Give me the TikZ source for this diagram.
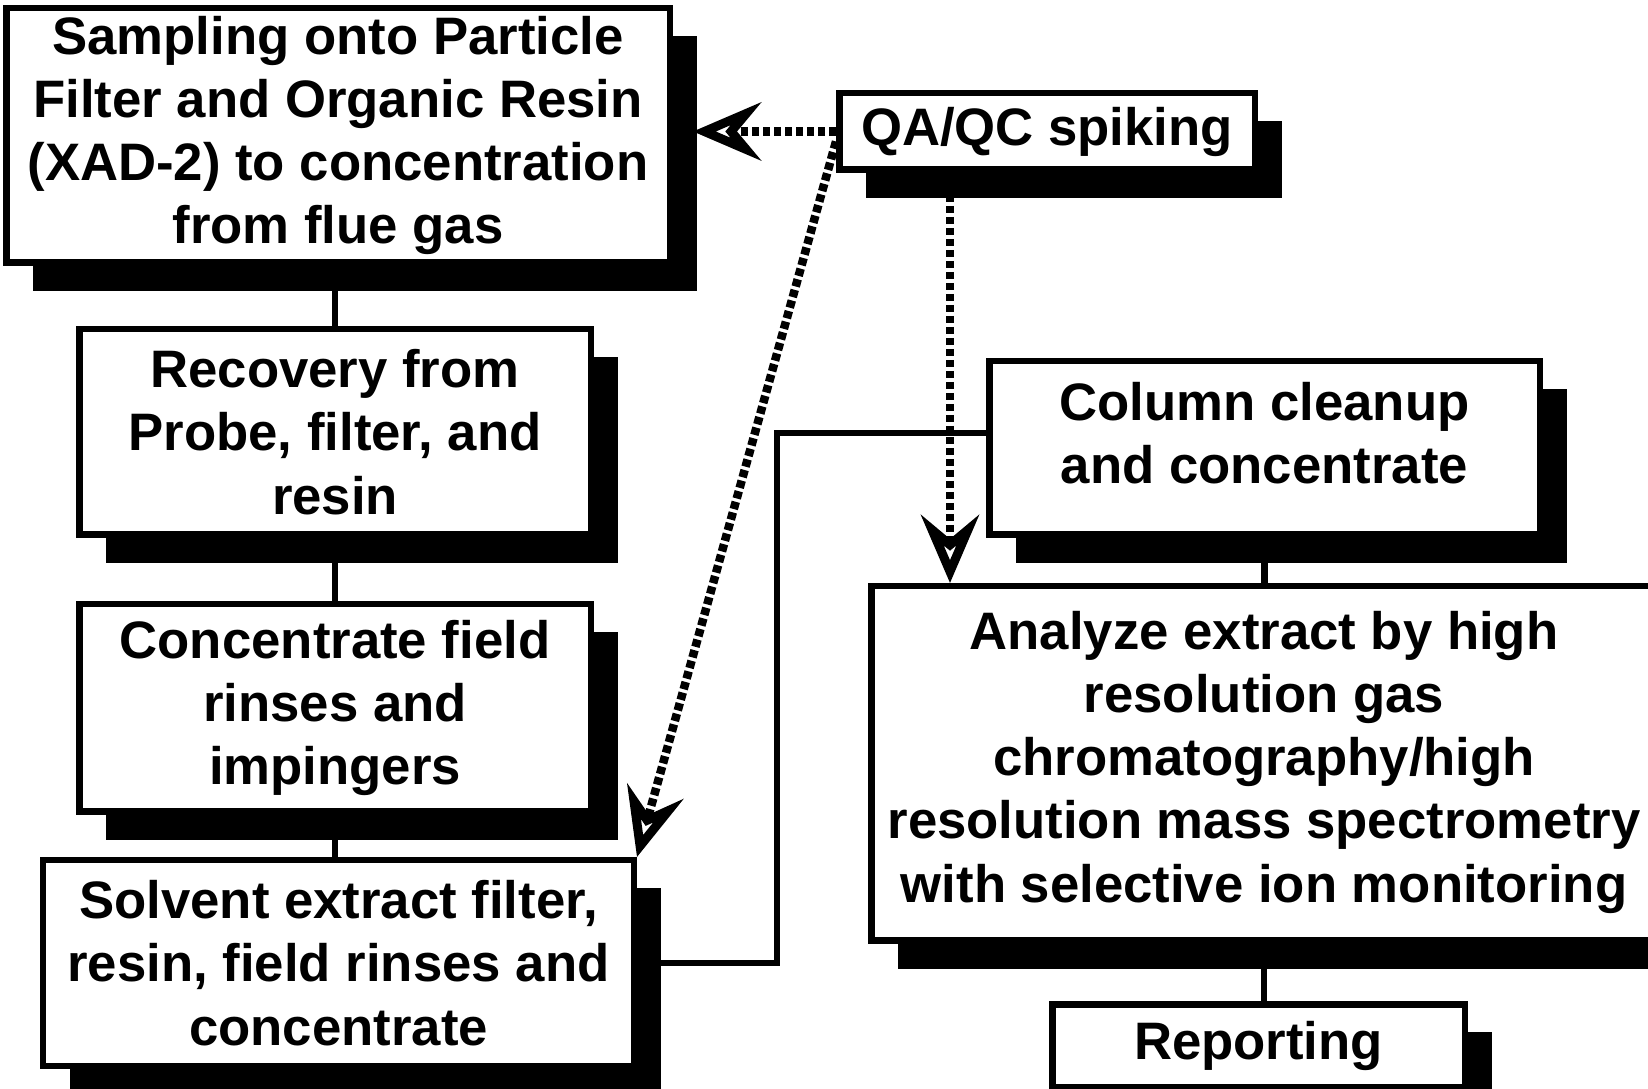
\documentclass[tikz,border=0pt]{standalone}
\usepackage{fontspec}
\setmainfont{Liberation Sans}
\usetikzlibrary{arrows.meta,shadows}

\begin{document}
\begin{tikzpicture}[
    >={Stealth[open, length=0.68cm, width=0.58cm, inset=0.24cm, line width=0.09cm]},
    font=\fontsize{15}{18}\selectfont\bfseries,
    box/.style={draw, line width=0.065cm, fill=white, align=center, inner sep=0pt,
        drop shadow={fill=black, opacity=1, shadow xshift=0.27cm, shadow yshift=-0.28cm}},
    link/.style={line width=0.065cm},
    spike/.style={->, line width=0.085cm, dash pattern=on 0.075cm off 0.035cm}
]
    \clip (0,0) rectangle (16.48,10.88);

    % sampling train (left column)
    \node[box, minimum width=6.635cm, minimum height=2.545cm] (sample) at (3.38, 9.525)
        {Sampling onto Particle\\Filter and Organic Resin\\(XAD-2) to concentration\\from flue gas};
    \node[box, minimum width=5.115cm, minimum height=2.055cm] (recover) at (3.35, 6.56)
        {Recovery from\\Probe, filter, and\\resin};
    \node[box, minimum width=5.115cm, minimum height=2.075cm] (concentrate) at (3.35, 3.80)
        {Concentrate field\\rinses and\\impingers};
    \node[box, minimum width=5.905cm, minimum height=2.055cm] (extract) at (3.385, 1.25)
        {Solvent extract filter,\\resin, field rinses and\\concentrate};

    % spiking and analysis (right column)
    \node[box, minimum width=4.155cm, minimum height=0.765cm] (qaqc) at (10.47, 9.565) {QA/QC spiking};
    \node[box, minimum width=5.505cm, minimum height=1.735cm, text depth=0.3cm] (column) at (12.645, 6.40)
        {Column cleanup\\and concentrate};
    \node[box, minimum width=7.855cm, minimum height=3.545cm, text depth=0.14cm] (analyze) at (12.64, 3.245)
        {Analyze extract by high\\resolution gas\\chromatography/high\\resolution mass spectrometry\\with selective ion monitoring};
    \node[box, minimum width=4.125cm, minimum height=0.825cm] (reporting) at (12.585, 0.425) {Reporting};

    \draw[link] (recover.north |- sample.south) -- (recover.north);
    \draw[link] (recover.south) -- (concentrate.north);
    \draw[link] (concentrate.south) -- (concentrate.south |- extract.north);
    \draw[link] (extract.east) -- ++(1.4,0) |- ([yshift=0.15cm]column.west);
    \draw[link] (column.south) -- (column.south |- analyze.north);
    \draw[link] (analyze.south) -- (analyze.south |- reporting.north);

    \coordinate (drop) at ([xshift=-0.97cm]qaqc.south);
    \draw[spike] (qaqc.west) -- ([xshift=0.2cm]qaqc.west -| sample.east);
    \draw[spike] ([yshift=-0.1cm]qaqc.west) -- (extract.north east);
    \draw[spike] (drop) -- (drop |- analyze.north);
\end{tikzpicture}
\end{document}
